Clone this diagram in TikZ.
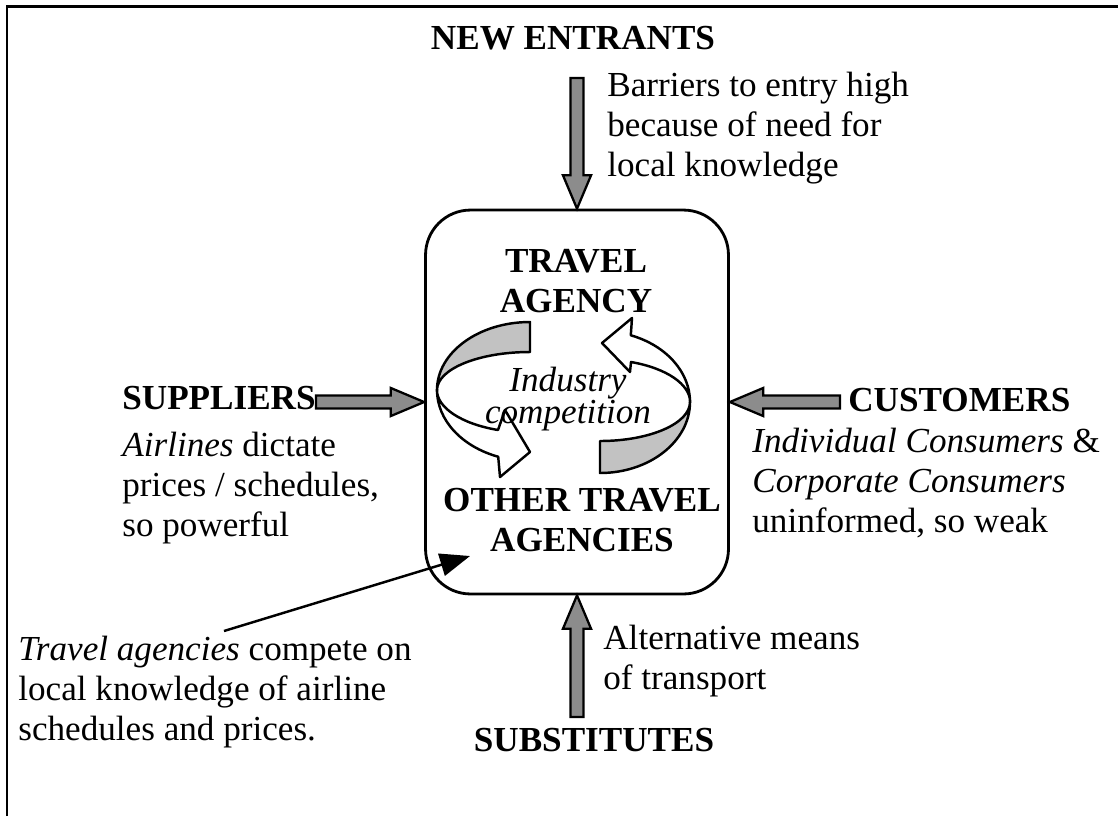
\documentclass[tikz,border=0pt]{standalone}
\usepackage{fontspec}
\setmainfont{Liberation Serif}
\usetikzlibrary{calc,arrows.meta}
\definecolor{arrowgray}{gray}{0.55}
\definecolor{bandgray}{gray}{0.76}

\begin{document}
\begin{tikzpicture}[x=0.02cm, y=-0.02cm,
    every node/.style={font=\fontsize{20}{22.8}\selectfont, inner sep=0pt},
    forcetitle/.style={font=\fontsize{20}{22.8}\selectfont\bfseries},
    forcenote/.style={align=left, anchor=west},
    ribbon/.style={draw=black, line width=1.4pt, line join=round},
    blockarrow/.style={draw=black, fill=arrowgray, line width=1.3pt, line join=miter,
        to path={
            ($(\tikztotarget)!19pt!(\tikztostart)$) coordinate (headbase)
            ($(\tikztostart)!3.7pt!90:(\tikztotarget)$)
            -- ($(headbase)!3.7pt!-90:(\tikztostart)$)
            -- ($(headbase)!8pt!-90:(\tikztostart)$)
            -- (\tikztotarget)
            -- ($(headbase)!8pt!90:(\tikztostart)$)
            -- ($(headbase)!3.7pt!90:(\tikztostart)$)
            -- ($(\tikztostart)!3.7pt!-90:(\tikztotarget)$)
            -- cycle}}]
    \useasboundingbox (0,0) rectangle (1118,816);

    % Frame
    \draw[line width=1.7pt] (7,816) -- (7,6) -- (1118,6);

    % Industry box
    \node[draw, line width=1.6pt, rounded corners=0.9cm, minimum width=6.06cm, minimum height=7.68cm] (box) at (577,402) {};

    % Rivalry ribbons
    \draw[ribbon, fill=bandgray] (530,322) arc[start angle=-90, end angle=-180, x radius=93, y radius=68]
        arc[start angle=180, end angle=270, x radius=93, y radius=38] -- cycle;
    \draw[ribbon, fill=white] (437,390) arc[start angle=180, end angle=110, x radius=93, y radius=71]
        -- (500,477) -- (530,452) -- (505,410) -- (498,430)
        arc[start angle=110, end angle=180, x radius=93, y radius=43] -- cycle;
    \draw[ribbon, fill=bandgray] (600,473) arc[start angle=90, end angle=0, x radius=90, y radius=71]
        arc[start angle=0, end angle=90, x radius=90, y radius=39] -- cycle;
    \draw[ribbon, fill=white] (690,402) arc[start angle=0, end angle=-70, x radius=90, y radius=71]
        -- (632,318) -- (602,343) -- (630,372) -- (631,362)
        arc[start angle=-70, end angle=0, x radius=90, y radius=43] -- cycle;

    % Box texts
    \node[forcetitle, align=center] (agency) at (576,281) {TRAVEL\\AGENCY};
    \node[font=\fontsize{20}{17}\selectfont\itshape, align=center] (rivalry) at (568,399) {Industry\\competition};
    \node[forcetitle, align=center] (others) at (582,520) {OTHER TRAVEL\\AGENCIES};

    % Forces
    \node[forcetitle] (entrants) at (573,38) {NEW ENTRANTS};
    \node[forcenote] (barriers) at (607,128) {Barriers to entry high\\because of need for\\local knowledge};
    \node[forcetitle, anchor=west] (suppliers) at (122,398) {SUPPLIERS};
    \node[forcenote] (airlines) at (122,488) {\textit{Airlines} dictate\\prices / schedules,\\so powerful};
    \node[forcetitle, anchor=west] (customers) at (848,400) {CUSTOMERS};
    \node[forcenote] (consumers) at (752,483) {\textit{Individual Consumers} \&\\\textit{Corporate Consumers}\\uninformed, so weak};
    \node[forcetitle] (substitutes) at (594,740) {SUBSTITUTES};
    \node[forcenote] (transport) at (603,661) {Alternative means\\of transport};
    \node[forcenote] (compete) at (18,692) {\textit{Travel agencies} compete on\\local knowledge of airline\\schedules and prices.};

    % Force arrows
    \coordinate (entrantsfoot) at (577,78);
    \coordinate (supplierstail) at (316,402);
    \coordinate (customerstail) at (840,402);
    \coordinate (substitutestail) at (577,717);
    \draw[blockarrow] (entrantsfoot) to (box.north);
    \draw[blockarrow] (supplierstail) to (box.west);
    \draw[blockarrow] (customerstail) to (box.east);
    \draw[blockarrow] (substitutestail) to (box.south);

    % Rivalry pointer
    \coordinate (competetail) at (224,631);
    \coordinate (pointtip) at (470,556);
    \draw[line width=1.4pt, -{Triangle[length=17pt, width=13pt]}] (competetail) -- (pointtip);
\end{tikzpicture}
\end{document}
